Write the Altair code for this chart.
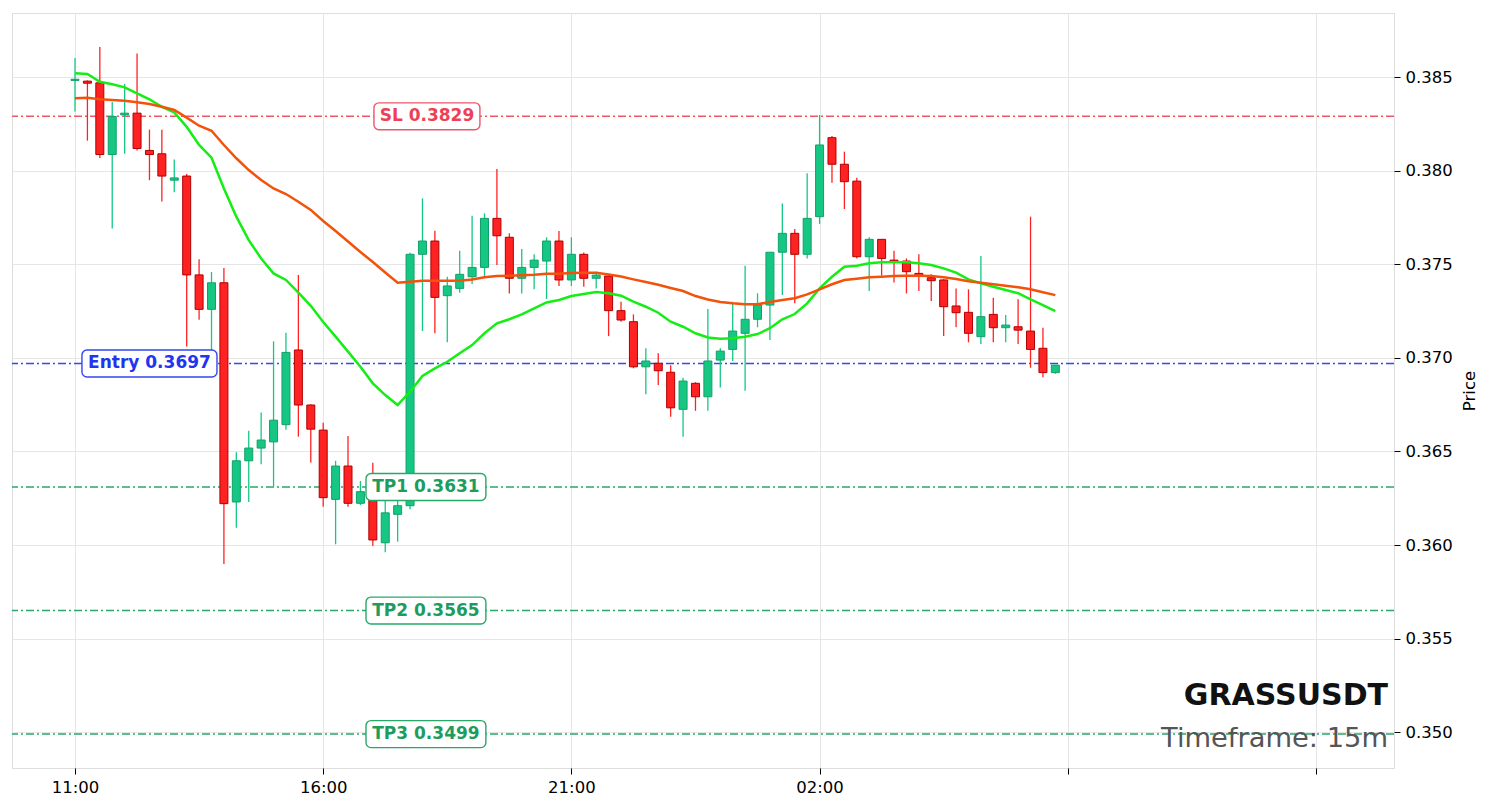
import altair as alt
import pandas as pd

# 15m candles, GRASSUSDT, 80 bars starting 11:00
opens = [0.38482, 0.38478, 0.38469, 0.38086, 0.38298, 0.38307, 0.38108, 0.38090, 0.37949, 0.37971,
         0.37443, 0.37259, 0.37401, 0.36230, 0.36450, 0.36518, 0.36551, 0.36643, 0.37042, 0.36748,
         0.36614, 0.36244, 0.36422, 0.36223, 0.36275, 0.36012, 0.36164, 0.36210, 0.37553, 0.37624,
         0.37332, 0.37371, 0.37433, 0.37483, 0.37745, 0.37644, 0.37425, 0.37483, 0.37517, 0.37624,
         0.37416, 0.37553, 0.37425, 0.37437, 0.37252, 0.37193, 0.36952, 0.36971, 0.36923, 0.36725,
         0.36864, 0.36792, 0.36988, 0.37045, 0.37131, 0.37206, 0.37282, 0.37564, 0.37665, 0.37553,
         0.37754, 0.38176, 0.38034, 0.37944, 0.37540, 0.37633, 0.37522, 0.37517, 0.37451, 0.37428,
         0.37416, 0.37277, 0.37243, 0.37113, 0.37232, 0.37161, 0.37166, 0.37143, 0.37051, 0.36921]
highs = [0.38601, 0.38482, 0.38660, 0.38366, 0.38463, 0.38625, 0.38219, 0.38219, 0.38059, 0.37982,
         0.37526, 0.37458, 0.37480, 0.36496, 0.36610, 0.36708, 0.37088, 0.37134, 0.37443, 0.36752,
         0.36653, 0.36450, 0.36582, 0.36342, 0.36440, 0.36250, 0.36250, 0.37561, 0.37852, 0.37679,
         0.37433, 0.37572, 0.37759, 0.37772, 0.38009, 0.37665, 0.37581, 0.37553, 0.37644, 0.37677,
         0.37644, 0.37563, 0.37460, 0.37442, 0.37300, 0.37232, 0.37051, 0.37024, 0.36961, 0.36894,
         0.36870, 0.37261, 0.37051, 0.37300, 0.37492, 0.37345, 0.37564, 0.37825, 0.37688, 0.37986,
         0.38297, 0.38185, 0.38101, 0.37962, 0.37644, 0.37633, 0.37572, 0.37531, 0.37553, 0.37446,
         0.37420, 0.37371, 0.37366, 0.37544, 0.37321, 0.37229, 0.37313, 0.37754, 0.37161, 0.36961]
lows = [0.38316, 0.38160, 0.38068, 0.37691, 0.38090, 0.38108, 0.37949, 0.37835, 0.37884, 0.37060,
        0.37204, 0.37040, 0.35899, 0.36092, 0.36230, 0.36432, 0.36313, 0.36616, 0.36579, 0.36441,
        0.36205, 0.36004, 0.36205, 0.36214, 0.35995, 0.35961, 0.36018, 0.36191, 0.37143, 0.37131,
        0.37083, 0.37348, 0.37394, 0.37425, 0.37496, 0.37344, 0.37344, 0.37366, 0.37314, 0.37384,
        0.37384, 0.37380, 0.37371, 0.37116, 0.37193, 0.36944, 0.36805, 0.36855, 0.36685, 0.36578,
        0.36717, 0.36717, 0.36842, 0.36983, 0.36824, 0.37163, 0.37095, 0.37335, 0.37291, 0.37531,
        0.37715, 0.37935, 0.37795, 0.37531, 0.37357, 0.37439, 0.37403, 0.37344, 0.37357, 0.37303,
        0.37116, 0.37163, 0.37083, 0.37074, 0.37083, 0.37083, 0.37074, 0.36947, 0.36896, 0.36915]
closes = [0.38488, 0.38467, 0.38086, 0.38289, 0.38307, 0.38118, 0.38086, 0.37971, 0.37961, 0.37443,
          0.37259, 0.37401, 0.36221, 0.36450, 0.36518, 0.36561, 0.36667, 0.37029, 0.36748, 0.36619,
          0.36253, 0.36422, 0.36223, 0.36285, 0.36027, 0.36172, 0.36210, 0.37553, 0.37624, 0.37323,
          0.37384, 0.37446, 0.37483, 0.37745, 0.37652, 0.37425, 0.37483, 0.37522, 0.37624, 0.37416,
          0.37553, 0.37425, 0.37442, 0.37252, 0.37202, 0.36952, 0.36983, 0.36931, 0.36733, 0.36876,
          0.36792, 0.36983, 0.37036, 0.37143, 0.37206, 0.37282, 0.37564, 0.37665, 0.37553, 0.37745,
          0.38137, 0.38034, 0.37941, 0.37540, 0.37633, 0.37531, 0.37513, 0.37460, 0.37439, 0.37412,
          0.37273, 0.37241, 0.37131, 0.37220, 0.37161, 0.37175, 0.37148, 0.37045, 0.36921, 0.36961]

# moving averages as drawn (fast = lime, slow = orange)
ema_fast = [0.38520, 0.38516, 0.38475, 0.38461, 0.38445, 0.38413, 0.38381, 0.38341, 0.38311, 0.38234,
            0.38137, 0.38069, 0.37905, 0.37754, 0.37629, 0.37531, 0.37451, 0.37416, 0.37348, 0.37278,
            0.37191, 0.37113, 0.37033, 0.36952, 0.36864, 0.36801, 0.36748, 0.36819, 0.36903, 0.36944,
            0.36979, 0.37024, 0.37068, 0.37131, 0.37184, 0.37206, 0.37232, 0.37264, 0.37296, 0.37309,
            0.37330, 0.37341, 0.37351, 0.37345, 0.37332, 0.37300, 0.37273, 0.37241, 0.37193, 0.37166,
            0.37131, 0.37109, 0.37102, 0.37104, 0.37113, 0.37127, 0.37158, 0.37206, 0.37234, 0.37291,
            0.37371, 0.37433, 0.37487, 0.37492, 0.37505, 0.37510, 0.37510, 0.37510, 0.37505, 0.37496,
            0.37478, 0.37455, 0.37419, 0.37398, 0.37380, 0.37362, 0.37345, 0.37312, 0.37282, 0.37250]
ema_slow = [0.38386, 0.38389, 0.38381, 0.38377, 0.38373, 0.38365, 0.38356, 0.38341, 0.38324, 0.38283,
            0.38240, 0.38213, 0.38137, 0.38066, 0.38003, 0.37950, 0.37905, 0.37875, 0.37834, 0.37790,
            0.37731, 0.37677, 0.37621, 0.37565, 0.37512, 0.37456, 0.37401, 0.37406, 0.37412, 0.37412,
            0.37412, 0.37412, 0.37419, 0.37430, 0.37437, 0.37439, 0.37441, 0.37444, 0.37449, 0.37449,
            0.37453, 0.37455, 0.37455, 0.37445, 0.37434, 0.37419, 0.37405, 0.37390, 0.37373, 0.37357,
            0.37330, 0.37312, 0.37298, 0.37291, 0.37286, 0.37286, 0.37298, 0.37309, 0.37318, 0.37339,
            0.37366, 0.37393, 0.37416, 0.37423, 0.37430, 0.37433, 0.37437, 0.37439, 0.37439, 0.37437,
            0.37430, 0.37421, 0.37409, 0.37401, 0.37393, 0.37385, 0.37377, 0.37366, 0.37350, 0.37335]

# trade levels
level_names = ["SL", "Entry", "TP1", "TP2", "TP3"]
level_values = [0.3829, 0.3697, 0.3631, 0.3565, 0.3499]
level_colors = ["#f0566b", "#3347f5", "#27a868", "#27a868", "#27a868"]
text_colors = ["#ee3f57", "#1f36f0", "#1e9c5c", "#1e9c5c", "#1e9c5c"]
# label box centre (bar index) and half width (bars)
label_x = [28.36, 6.0, 28.28, 28.28, 28.28]
label_halfw = [4.27, 5.44, 4.83, 4.83, 4.83]
label_halfh = 0.00072

tick_values = [0, 20, 40, 60, 80, 100]
tick_labels = ["11:00", "16:00", "21:00", "02:00", "", ""]

symbol = "GRASSUSDT"
timeframe = "Timeframe: 15m"

FONT = "DejaVu Sans"
UP, DOWN = "#16c784", "#ff2222"
UP_EDGE, DOWN_EDGE = "#12a06a", "#b00000"

W, H = 1382, 755
x_dom = [-5.077, 106.29]
y_dom = [0.34809, 0.38842]

df = pd.DataFrame({"i": range(len(opens)), "open": opens, "high": highs,
                   "low": lows, "close": closes,
                   "fast": ema_fast, "slow": ema_slow})
levels = pd.DataFrame({"name": level_names, "value": level_values,
                       "color": level_colors, "tcolor": text_colors,
                       "cx": label_x, "hw": label_halfw})
levels["label"] = levels["name"] + " " + levels["value"].map(lambda v: f"{v:.4f}")
levels["x1"] = levels["cx"] - levels["hw"]
levels["x2"] = levels["cx"] + levels["hw"]
levels["y1"] = levels["value"] - label_halfh
levels["y2"] = levels["value"] + label_halfh

label_expr = " : ".join(f"datum.value == {v} ? '{t}'" for v, t in zip(tick_values, tick_labels)) + " : ''"

x_enc = alt.X("i:Q", scale=alt.Scale(domain=x_dom, nice=False, zero=False, padding=0),
              axis=alt.Axis(values=tick_values, labelExpr=label_expr, title=None,
                            grid=True, gridColor="#e6e6e6", domain=False,
                            tickColor="#000", tickSize=6, labelPadding=5,
                            labelFontSize=16.5, labelColor="#000", labelFont=FONT))
y_scale = alt.Scale(domain=y_dom, nice=False, zero=False, padding=0)
y_axis = alt.Axis(orient="right", values=[0.35 + 0.005 * k for k in range(8)], format=".3f",
                  title="Price", titleAngle=270, titleFont=FONT, titleFontSize=16.5,
                  titleFontWeight="normal", titleColor="#000", titlePadding=25,
                  grid=True, gridColor="#e6e6e6", domain=False,
                  tickColor="#000", tickSize=6, labelPadding=5,
                  labelFontSize=16.5, labelColor="#000", labelFont=FONT)

base = alt.Chart(df)
up = "datum.close >= datum.open"

wicks = base.mark_rule(strokeWidth=1.3).encode(
    x=x_enc,
    y=alt.Y("low:Q", scale=y_scale, axis=y_axis),
    y2="high:Q",
    color=alt.condition(up, alt.value(UP), alt.value(DOWN)),
)

bodies = base.mark_bar(size=8, strokeWidth=1).encode(
    x="i:Q",
    y="open:Q",
    y2="close:Q",
    fill=alt.condition(up, alt.value(UP), alt.value(DOWN)),
    stroke=alt.condition(up, alt.value(UP_EDGE), alt.value(DOWN_EDGE)),
)

fast_line = base.mark_line(color="#14ee14", strokeWidth=2.5).encode(x="i:Q", y="fast:Q")
slow_line = base.mark_line(color="#f2520a", strokeWidth=2.5).encode(x="i:Q", y="slow:Q")

lev = alt.Chart(levels)
level_rules = lev.mark_rule(strokeWidth=1.5, strokeDash=[8, 3, 2, 3]).encode(
    y="value:Q",
    color=alt.Color("color:N", scale=None),
)
boxes = lev.mark_rect(fill="white", strokeWidth=1.4, cornerRadius=5).encode(
    x="x1:Q", x2="x2:Q", y="y1:Q", y2="y2:Q",
    stroke=alt.Color("color:N", scale=None),
)
box_text = lev.mark_text(font=FONT, fontSize=17, fontWeight="bold", baseline="middle").encode(
    x="cx:Q", y="value:Q", text="label:N",
    color=alt.Color("tcolor:N", scale=None),
)

sym_text = alt.Chart(pd.DataFrame({"t": [symbol]})).mark_text(
    font=FONT, fontSize=30, fontWeight="bold", align="right", baseline="alphabetic", color="#111"
).encode(text="t:N", x=alt.value(W - 6), y=alt.value(692))
tf_text = alt.Chart(pd.DataFrame({"t": [timeframe]})).mark_text(
    font=FONT, fontSize=27.3, align="right", baseline="alphabetic", color="#555"
).encode(text="t:N", x=alt.value(W - 6), y=alt.value(734))

chart = alt.layer(
    level_rules, wicks, bodies, fast_line, slow_line, boxes, box_text, sym_text, tf_text
).properties(
    width=W, height=H,
    padding={"left": 4, "top": 5, "right": 88, "bottom": 30},
    autosize=alt.AutoSizeParams(type="none"),
).configure_view(stroke="#cfcfcf", strokeWidth=1.2).configure(background="white")

chart.save("out.html", embed_options={"renderer": "svg", "actions": False})
